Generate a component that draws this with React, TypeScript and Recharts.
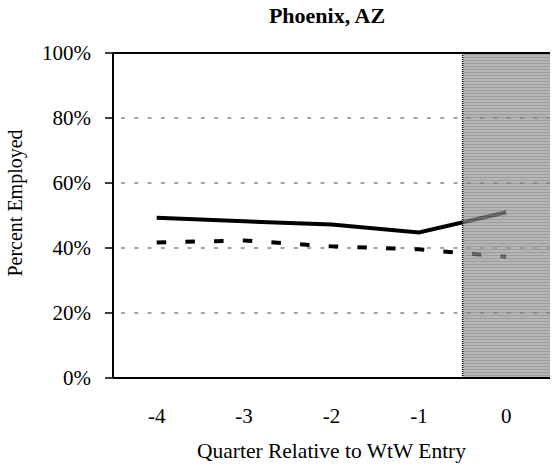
import { Line, LineChart, ReferenceArea, ReferenceLine, XAxis, YAxis } from "recharts"

const quarters = [-4, -3, -2, -1, 0]
const quarterEdges = [-4.5, -3.5, -2.5, -1.5, -0.5, 0.5]
const wtwEntrants = [49.3, 48.2, 47.2, 44.8, 51.0]
const comparisonGroup = [41.7, 42.3, 40.5, 39.6, 37.3]
const percentTicks = [0, 20, 40, 60, 80, 100]
const gridLevels = [20, 40, 60, 80]
const shadedFrom = -0.5
const shadedTo = 0.5

const rows = quarters.map((q, i) => ({
  q,
  wtw: wtwEntrants[i],
  comp: comparisonGroup[i],
}))

const FONT = '"Liberation Serif", "Times New Roman", serif'

export default function App() {
  return (
    <div style={{ position: "absolute", left: 0, top: 0, width: 552, height: 466, fontFamily: FONT }}>
      {/* stripe pattern for the post-entry quarter */}
      <svg width={0} height={0} style={{ position: "absolute" }}>
        <defs>
          <pattern id="shade" width={6} height={3} patternUnits="userSpaceOnUse">
            <rect width={6} height={3} fill="#969696" />
            <rect width={6} height={1} fill="#747474" />
          </pattern>
        </defs>
      </svg>

      <div
        style={{
          position: "absolute",
          left: 113,
          width: 428,
          top: 3,
          textAlign: "center",
          fontWeight: "bold",
          fontSize: 22,
          color: "#000",
        }}
      >
        Phoenix, AZ
      </div>

      <LineChart
        width={552}
        height={466}
        data={rows}
        margin={{ top: 53, right: 2, bottom: 0, left: 0 }}
      >
        <XAxis
          xAxisId="edges"
          dataKey="q"
          type="number"
          domain={[-4.5, 0.5]}
          ticks={quarterEdges}
          tick={false}
          tickSize={8}
          height={8}
          axisLine={{ stroke: "#000", strokeWidth: 2 }}
          tickLine={{ stroke: "#000", strokeWidth: 1.5 }}
        />
        <XAxis
          xAxisId="labels"
          dataKey="q"
          type="number"
          domain={[-4.5, 0.5]}
          ticks={quarters}
          axisLine={false}
          tickLine={false}
          tickSize={0}
          tickMargin={22}
          height={80}
          tick={{ fontSize: 21, fill: "#000", fontFamily: FONT }}
          label={{
            value: "Quarter Relative to WtW Entry",
            position: "insideBottom",
            offset: 8,
            fontSize: 21.5,
            fill: "#000",
            fontFamily: FONT,
          }}
        />
        <YAxis
          type="number"
          domain={[0, 100]}
          ticks={percentTicks}
          tickFormatter={(v: number) => `${v}%`}
          width={113}
          tickSize={8}
          tickMargin={14}
          tick={{ fontSize: 21, fill: "#000", fontFamily: FONT }}
          axisLine={{ stroke: "#000", strokeWidth: 2 }}
          tickLine={{ stroke: "#000", strokeWidth: 1.5 }}
          label={{
            content: () => (
              <text
                x={15}
                y={203}
                transform="rotate(-90 15 203)"
                textAnchor="middle"
                dominantBaseline="central"
                fontSize={20}
                fontFamily={FONT}
                fill="#000"
              >
                Percent Employed
              </text>
            ),
          }}
        />

        {gridLevels.map((g) => (
          <ReferenceLine
            key={g}
            xAxisId="edges"
            y={g}
            stroke="#a4a4a4"
            strokeWidth={2}
            strokeDasharray="4 9.3"
            strokeDashoffset={-8}
          />
        ))}

        <Line
          xAxisId="edges"
          dataKey="wtw"
          stroke="#000"
          strokeWidth={4}
          dot={false}
          isAnimationActive={false}
        />
        <Line
          xAxisId="edges"
          dataKey="comp"
          stroke="#000"
          strokeWidth={4}
          strokeDasharray="9.5 19.2"
          dot={false}
          isAnimationActive={false}
        />

        <ReferenceArea
          xAxisId="edges"
          x1={shadedFrom}
          x2={shadedTo}
          y1={0}
          y2={100}
          fill="url(#shade)"
          fillOpacity={0.7}
          stroke="none"
          zIndex={450}
        />
        <ReferenceLine
          xAxisId="edges"
          x={shadedFrom}
          stroke="#000"
          strokeWidth={1.5}
          strokeDasharray="1 1"
          zIndex={460}
        />
        <ReferenceLine xAxisId="edges" y={100} stroke="#000" strokeWidth={2} zIndex={460} />
      </LineChart>
    </div>
  )
}
